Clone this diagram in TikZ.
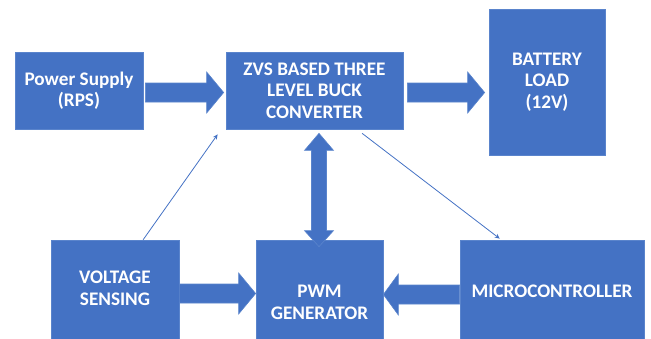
\documentclass[tikz,border=0pt]{standalone}
\usepackage{fontspec}
\setmainfont{Carlito}
\usetikzlibrary{calc,arrows.meta}
\definecolor{boxblue}{HTML}{4472C4}
\definecolor{edgeblue}{HTML}{5A84CC}
\tikzset{
  lbl/.style={text=white,align=center,inner sep=0pt,
     font=\bfseries\fontsize{19.2}{21.5}\selectfont},
  blk/.style={lbl,fill=boxblue,draw=edgeblue,line width=0.7pt},
  fat/.style={fill=boxblue,draw=edgeblue,line width=0.6pt},
  thinarr/.style={draw=boxblue,line width=0.8pt,-{Stealth[length=5pt,width=4.5pt]}}
}
\newcommand\fatharrow[3]{%
  \filldraw[fat] let \p1=(#1), \p2=(#2) in
   (\x1,\y1+9.5pt) -- ({\x2-(#3)},\y1+9.5pt) -- ({\x2-(#3)},\y1+20.5pt) -- (\x2,\y1)
   -- ({\x2-(#3)},\y1-20.5pt) -- ({\x2-(#3)},\y1-9.5pt) -- (\x1,\y1-9.5pt) -- cycle;}
\begin{document}
\begin{tikzpicture}[x=1pt,y=-1pt]
\useasboundingbox (0,0) rectangle (651,338);
\clip (0,0) rectangle (651,338);
% blocks
\node[blk,minimum width=128pt,minimum height=77pt] (ps) at (79,90.5) {Power Supply\\(RPS)};
\node[blk,minimum width=177pt,minimum height=77pt] (zvs) at (314.5,90.5) {ZVS BASED THREE\\LEVEL BUCK\\CONVERTER};
\node[blk,minimum width=116pt,minimum height=146pt] (bat) at (547,82) {BATTERY\\LOAD\\(12V)};
\node[blk,minimum width=128pt,minimum height=102pt] (vs) at (115,291) {};
\node[blk,minimum width=127pt,minimum height=102pt] (pwm) at (319.5,291) {};
\node[blk,minimum width=184pt,minimum height=102pt] (mc) at (552,291) {};
\node[lbl] (vst) at (115,288.5) {VOLTAGE\\SENSING};
\node[lbl] (pwmt) at (319.5,302.5) {PWM\\GENERATOR};
\node[lbl] (mct) at (552,291) {MICROCONTROLLER};
% fat arrows
\fatharrow{$(ps.east)+(2,2)$}{$(zvs.west)+(-2,0)$}{17pt}
\fatharrow{$(zvs.east)+(4,2)$}{$(bat.west)+(-4,0)$}{17pt}
\fatharrow{$(vs.east)+(0,2.5)$}{$(pwm.west)$}{17pt}
\fatharrow{$(mc.west)+(0,3.5)$}{$(pwm.east)$}{-15pt}
\filldraw[fat] let \p1=($(zvs.south)+(4.5,4)$), \p2=($(pwm.north)+(0,7)$) in
  (\x1,\y1) -- (\x1+14.5pt,\y1-17pt) -- (\x1+7.5pt,\y1-17pt) -- (\x1+7.5pt,\y2+16pt)
  -- (\x1+14.5pt,\y2+16pt) -- (\x1,\y2) -- (\x1-14.5pt,\y2+16pt) -- (\x1-7.5pt,\y2+16pt)
  -- (\x1-7.5pt,\y1-17pt) -- (\x1-14.5pt,\y1-17pt) -- cycle;
% thin arrows
\coordinate (vsfrom) at ($(vs.north west)!0.719!(vs.north east)$);
\coordinate (zvsto) at ($(zvs.south west)+(-8,5)$);
\draw[thinarr] (vsfrom) -- (zvsto);
\coordinate (zvsfrom) at ($(zvs.south west)!0.768!(zvs.south east)+(0,4)$);
\coordinate (mcto) at ($(mc.north west)!0.217!(mc.north east)+(0,-1)$);
\draw[thinarr] (zvsfrom) -- (mcto);
\end{tikzpicture}
\end{document}
